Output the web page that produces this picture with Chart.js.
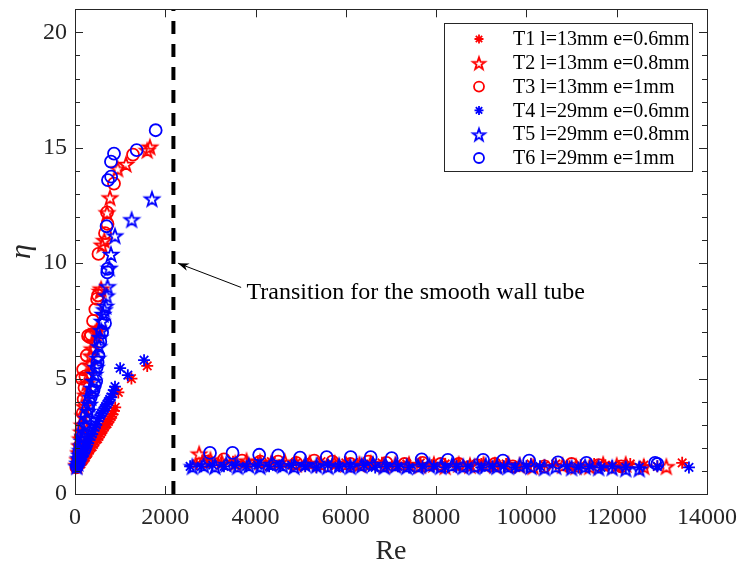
<!DOCTYPE html>
<html>
<head>
<meta charset="utf-8">
<script src="https://cdn.jsdelivr.net/npm/chart.js@4.4.0/dist/chart.umd.min.js"></script>
<style>
  html, body { margin: 0; padding: 0; background: #fff; }
  canvas { display: block; }
</style>
</head>
<body>
<canvas id="chart" width="741" height="571"></canvas>
<script>
// ---- data ----
const seriesNames = [
  "T1 l=13mm e=0.6mm", "T2 l=13mm e=0.8mm", "T3 l=13mm e=1mm",
  "T4 l=29mm e=0.6mm", "T5 l=29mm e=0.8mm", "T6 l=29mm e=1mm"
];

// T1 (red asterisk)
const t1Re  = [50,70,90,110,130,150,170,190,210,230,250,270,290,320,350,380,410,440,470,500,530,560,590,620,650,680,710,740,770,800,830,860,890,960,1250,1600,
               2700,2950,3250,3500,3800,4050,4350,4600,4900,5150,5450,5700,6000,6250,6550,6800,7100,7350,7650,7900,8200,8450,8750,9000,9300,9550,9850,10100,10400,10650,10950,11200,11500,11750,12050,12300,12600,12900,13450];
const t1Eta = [1.15,1.2,1.25,1.3,1.3,1.4,1.45,1.5,1.55,1.6,1.7,1.75,1.8,1.9,2.0,2.05,2.15,2.25,2.35,2.4,2.5,2.6,2.7,2.8,2.9,3.0,3.05,3.15,3.25,3.35,3.45,3.6,3.75,4.4,5.0,5.55,
               1.3,1.45,1.35,1.4,1.3,1.35,1.4,1.3,1.35,1.3,1.4,1.3,1.35,1.3,1.3,1.35,1.25,1.3,1.35,1.25,1.3,1.3,1.25,1.3,1.25,1.3,1.2,1.3,1.25,1.3,1.2,1.25,1.3,1.25,1.2,1.3,1.25,1.2,1.35];

// T2 (red pentagram)
const t2Re  = [40,60,80,100,120,140,160,180,200,230,260,290,320,350,380,410,450,480,510,560,580,600,650,710,775,945,1130,1600,1660,
               2750,3000,3250,3550,3800,4100,4350,4650,4900,5200,5450,5750,6000,6300,6550,6850,7100,7400,7650,7950,8200,8500,8750,9050,9300,9600,9850,10150,10800,11100,11400,11700,12000,12200,12600,13100];
const t2Eta = [1.25,1.5,1.8,2.1,2.4,2.7,3.0,3.4,3.8,4.3,4.8,5.2,5.6,6.0,6.3,6.6,7.0,7.1,7.2,8.8,8.9,10.8,11.0,12.2,12.85,14.1,14.3,14.9,15.05,
               1.75,1.5,1.4,1.35,1.45,1.4,1.35,1.4,1.3,1.35,1.3,1.35,1.3,1.3,1.35,1.25,1.3,1.3,1.25,1.3,1.2,1.3,1.25,1.3,1.25,1.3,1.25,1.2,1.25,1.2,1.2,1.3,1.25,1.3,1.2,1.2];

// T3 (red circle)
const t3Re  = [30,50,70,90,110,130,150,170,190,150,180,210,230,260,290,330,355,400,450,490,510,520,665,709,720,864,1285,
               2900,3300,3700,4100,4500,4900,5300,5700,6100,6500,6900,7300,7700,8100,8500,8900,9300,9700,10400,11000,11600,12100];
const t3Eta = [1.15,1.3,1.5,1.8,2.1,2.5,2.9,3.5,4.1,5.0,5.4,4.6,5.1,6.0,6.85,6.8,6.9,7.5,8.0,8.45,8.6,10.4,11.3,12.2,11.7,13.45,14.7,
               1.4,1.5,1.45,1.4,1.4,1.35,1.45,1.4,1.3,1.4,1.35,1.3,1.35,1.3,1.3,1.25,1.3,1.2,1.2,1.3,1.25,1.2];

// T4 (blue asterisk)
const t4Re  = [50,70,90,110,130,150,170,190,210,230,250,270,290,320,350,380,410,440,470,500,530,560,590,620,650,680,710,740,770,800,830,860,886,1000,1170,1530,
               2550,2800,3050,3300,3550,3800,4050,4300,4550,4800,5100,5350,5600,5850,6100,6400,6650,6900,7150,7400,7700,7950,8200,8450,8700,9000,9250,9500,9750,10000,10300,10900,11150,11400,11650,11900,12200,12500,12900,13600];
const t4Eta = [1.25,1.3,1.35,1.45,1.5,1.6,1.65,1.75,1.8,1.9,2.0,2.1,2.2,2.35,2.5,2.6,2.75,2.9,3.0,3.15,3.3,3.4,3.5,3.6,3.7,3.8,3.9,4.0,4.1,4.2,4.35,4.5,4.65,5.45,5.15,5.8,
               1.2,1.2,1.25,1.2,1.25,1.2,1.25,1.2,1.2,1.25,1.2,1.15,1.25,1.2,1.2,1.25,1.15,1.2,1.2,1.15,1.2,1.2,1.15,1.2,1.2,1.15,1.2,1.2,1.15,1.2,1.2,1.2,1.15,1.2,1.15,1.2,1.15,1.15,1.2,1.15];

// T5 (blue pentagram)
const t5Re  = [40,60,80,100,120,140,160,180,200,230,260,290,320,350,380,410,440,470,500,530,550,580,600,620,650,680,700,720,760,797,886,1255,1705,
               2600,2850,3100,3350,3600,3850,4100,4350,4600,4850,5100,5350,5600,5850,6100,6350,6600,6850,7100,7350,7600,7850,8100,8350,8600,8850,9100,9350,9600,9850,10100,10400,10650,11000,11300,11600,11900,12200,12500];
const t5Eta = [1.2,1.35,1.55,1.7,1.9,2.1,2.3,2.5,2.7,3.0,3.3,3.6,3.9,4.2,4.6,4.9,5.2,5.5,5.9,6.4,6.8,7.1,7.5,7.8,8.0,8.15,8.6,9.0,9.8,10.4,11.2,11.9,12.8,
               1.2,1.25,1.2,1.3,1.2,1.25,1.2,1.3,1.25,1.2,1.3,1.25,1.2,1.25,1.2,1.25,1.3,1.2,1.25,1.2,1.2,1.25,1.2,1.25,1.2,1.2,1.25,1.2,1.2,1.25,1.2,1.15,1.2,1.15,1.2,1.15,1.15,1.1,1.1];

// T6 (blue circle)
const t6Re  = [40,60,80,100,120,140,170,200,230,260,290,320,350,380,410,440,470,480,500,520,560,600,665,715,720,700,730,800,797,864,1366,1787,
               2990,3490,4080,4500,4985,5575,6107,6550,7015,7680,8260,9040,9480,10060,10700,11330,12850,12900];
const t6Eta = [1.2,1.3,1.55,1.8,2.0,2.2,2.5,2.85,3.1,3.4,3.7,3.95,4.2,4.4,4.5,4.7,4.9,5.5,5.7,6.0,6.6,7.0,7.4,9.6,9.75,11.6,13.6,13.75,14.4,14.75,14.9,15.76,
               1.78,1.78,1.7,1.67,1.58,1.6,1.6,1.6,1.55,1.5,1.48,1.48,1.45,1.45,1.37,1.35,1.35,1.3];

const xTicks = [0, 2000, 4000, 6000, 8000, 10000, 12000, 14000];
const yTicks = [0, 5, 10, 15, 20];
const transitionRe = 2180;
const noteText = "Transition for the smooth wall tube";

// ---- styling ----
const RED = "#ff0000";
const BLUE = "#0000ff";
const AXIS = "#262626";
const FONT = "'Liberation Serif', 'Times New Roman', serif";
const MARK_W = 1.8;

function zip(xs, ys) {
  return xs.map((x, i) => ({ x: x, y: ys[i] }));
}

// pentagram marker as an image (Chart.js has no pentagram style)
function starImage(color, r, w) {
  const size = Math.ceil(r * 2 + 5);
  const c = document.createElement("canvas");
  c.width = size;
  c.height = size;
  const g = c.getContext("2d");
  g.strokeStyle = color;
  g.lineWidth = w;
  g.beginPath();
  for (let i = 0; i < 10; i++) {
    const rad = i % 2 === 0 ? r : r * 0.4;
    const a = -Math.PI / 2 + i * Math.PI / 5;
    const x = size / 2 + rad * Math.cos(a);
    const y = size / 2 + 1 + rad * Math.sin(a);
    if (i === 0) g.moveTo(x, y); else g.lineTo(x, y);
  }
  g.closePath();
  g.stroke();
  return c;
}

const redStar = starImage(RED, 7.5, MARK_W);
const blueStar = starImage(BLUE, 7.5, MARK_W);
const redStarSmall = starImage(RED, 6.5, MARK_W);
const blueStarSmall = starImage(BLUE, 6.5, MARK_W);

const markers = [
  { style: "star", color: RED, radius: 6 },
  { style: redStar, color: RED, radius: 7.5 },
  { style: "circle", color: RED, radius: 6 },
  { style: "star", color: BLUE, radius: 6 },
  { style: blueStar, color: BLUE, radius: 7.5 },
  { style: "circle", color: BLUE, radius: 6 }
];

const legendMarkers = [
  { style: "star", color: RED, radius: 4.5 },
  { style: redStarSmall, color: RED, radius: 6.5 },
  { style: "circle", color: RED, radius: 5 },
  { style: "star", color: BLUE, radius: 4.5 },
  { style: blueStarSmall, color: BLUE, radius: 6.5 },
  { style: "circle", color: BLUE, radius: 5 }
];

const seriesData = [
  zip(t1Re, t1Eta), zip(t2Re, t2Eta), zip(t3Re, t3Eta),
  zip(t4Re, t4Eta), zip(t5Re, t5Eta), zip(t6Re, t6Eta)
];

const datasets = seriesData.map((pts, i) => ({
  type: "scatter",
  label: seriesNames[i],
  data: pts,
  pointStyle: markers[i].style,
  pointRadius: markers[i].radius,
  pointHoverRadius: markers[i].radius,
  borderColor: markers[i].color,
  backgroundColor: "rgba(0,0,0,0)",
  borderWidth: MARK_W,
  showLine: false,
  clip: false,
  order: 6 - i // later series drawn on top, like MATLAB
}));

// vertical dashed transition line
datasets.push({
  type: "line",
  label: "transition",
  data: [{ x: transitionRe, y: 0 }, { x: transitionRe, y: 21 }],
  borderColor: "#000",
  borderWidth: 4,
  borderDash: [13, 10],
  pointRadius: 0,
  fill: false,
  order: 0
});

// draw a marker at (x, y) on ctx
function drawMarker(ctx, m, x, y) {
  ctx.save();
  ctx.strokeStyle = m.color;
  ctx.lineWidth = MARK_W;
  if (m.style === "circle") {
    ctx.beginPath();
    ctx.arc(x, y, m.radius, 0, Math.PI * 2);
    ctx.stroke();
  } else if (m.style === "star") {
    ctx.beginPath();
    for (let k = 0; k < 4; k++) {
      const a = k * Math.PI / 4;
      ctx.moveTo(x - m.radius * Math.cos(a), y - m.radius * Math.sin(a));
      ctx.lineTo(x + m.radius * Math.cos(a), y + m.radius * Math.sin(a));
    }
    ctx.stroke();
  } else {
    ctx.drawImage(m.style, x - m.style.width / 2, y - m.style.height / 2);
  }
  ctx.restore();
}

// box, inward ticks, legend and arrow note
const decorations = {
  id: "decorations",
  afterDraw(chart) {
    const ctx = chart.ctx;
    const area = chart.chartArea;
    const xs = chart.scales.x;
    const ys = chart.scales.y;

    ctx.save();
    ctx.strokeStyle = AXIS;
    ctx.lineWidth = 1;
    ctx.strokeRect(Math.round(area.left) + 0.5, Math.round(area.top) + 0.5,
                   Math.round(area.right - area.left), Math.round(area.bottom - area.top));

    ctx.beginPath();
    xTicks.forEach(v => {
      const px = Math.round(xs.getPixelForValue(v)) + 0.5;
      ctx.moveTo(px, area.bottom);
      ctx.lineTo(px, area.bottom - 8);
      ctx.moveTo(px, area.top);
      ctx.lineTo(px, area.top + 8);
    });
    for (let v = 0; v <= 21; v++) {
      const py = Math.round(ys.getPixelForValue(v)) + 0.5;
      const len = v % 5 === 0 ? 8 : 5;
      ctx.moveTo(area.left, py);
      ctx.lineTo(area.left + len, py);
      ctx.moveTo(area.right, py);
      ctx.lineTo(area.right - len, py);
    }
    ctx.stroke();
    ctx.restore();

    // legend
    const lx = 444, ly = 23, lw = 248, lh = 148;
    ctx.save();
    ctx.fillStyle = "#fff";
    ctx.fillRect(lx, ly, lw, lh);
    ctx.strokeStyle = AXIS;
    ctx.lineWidth = 1;
    ctx.strokeRect(lx + 0.5, ly + 0.5, lw, lh);
    ctx.font = "20px " + FONT;
    ctx.fillStyle = "#000";
    ctx.textBaseline = "middle";
    ctx.textAlign = "left";
    seriesNames.forEach((name, i) => {
      const cy = ly + 16 + i * 23.8;
      drawMarker(ctx, legendMarkers[i], lx + 35, cy);
      ctx.fillText(name, lx + 69, cy + 1);
    });
    ctx.restore();

    // arrow note
    const hx = xs.getPixelForValue(2280), hy = ys.getPixelForValue(10);
    const tx = xs.getPixelForValue(3680), ty = ys.getPixelForValue(8.95);
    ctx.save();
    ctx.strokeStyle = "#000";
    ctx.fillStyle = "#000";
    ctx.lineWidth = 1;
    ctx.beginPath();
    ctx.moveTo(tx, ty);
    ctx.lineTo(hx, hy);
    ctx.stroke();
    const ang = Math.atan2(hy - ty, hx - tx);
    const hl = 11, hw = 4;
    ctx.beginPath();
    ctx.moveTo(hx, hy);
    ctx.lineTo(hx - hl * Math.cos(ang) + hw * Math.sin(ang), hy - hl * Math.sin(ang) - hw * Math.cos(ang));
    ctx.lineTo(hx - hl * 0.7 * Math.cos(ang), hy - hl * 0.7 * Math.sin(ang));
    ctx.lineTo(hx - hl * Math.cos(ang) - hw * Math.sin(ang), hy - hl * Math.sin(ang) + hw * Math.cos(ang));
    ctx.closePath();
    ctx.fill();
    ctx.font = "24px " + FONT;
    ctx.textBaseline = "middle";
    ctx.textAlign = "left";
    ctx.fillText(noteText, xs.getPixelForValue(3800), ys.getPixelForValue(8.7));
    ctx.restore();
  }
};

const chart = new Chart(document.getElementById("chart"), {
  data: { datasets: datasets },
  options: {
    responsive: false,
    devicePixelRatio: 1,
    animation: false,
    layout: { padding: { top: 7, right: 34, left: 0, bottom: 0 } },
    plugins: {
      legend: { display: false },
      tooltip: { enabled: false }
    },
    scales: {
      x: {
        type: "linear",
        min: 0,
        max: 14000,
        afterFit(s) { s.height = 77; s.paddingLeft = 0; s.paddingRight = 0; },
        afterBuildTicks(s) { s.ticks = xTicks.map(v => ({ value: v })); },
        ticks: {
          font: { family: FONT, size: 24 }, color: AXIS, padding: 9, maxRotation: 0, autoSkip: false,
          callback: v => String(v)
        },
        grid: { display: false, drawTicks: false },
        border: { display: false },
        title: { display: true, text: "Re", font: { family: FONT, size: 28 }, color: AXIS, padding: { top: 0, bottom: 3 } }
      },
      y: {
        type: "linear",
        min: 0,
        max: 21,
        afterFit(s) { s.width = 75; s.paddingTop = 0; s.paddingBottom = 0; },
        afterBuildTicks(s) { s.ticks = yTicks.map(v => ({ value: v })); },
        ticks: { font: { family: FONT, size: 24 }, color: AXIS, padding: 8, callback: v => String(v) },
        grid: { display: false, drawTicks: false },
        border: { display: false },
        title: { display: true, text: "η", font: { family: FONT, size: 30, style: "italic" }, color: AXIS, padding: { top: 4, bottom: 0 } }
      }
    }
  },
  plugins: [decorations]
});
</script>
</body>
</html>
